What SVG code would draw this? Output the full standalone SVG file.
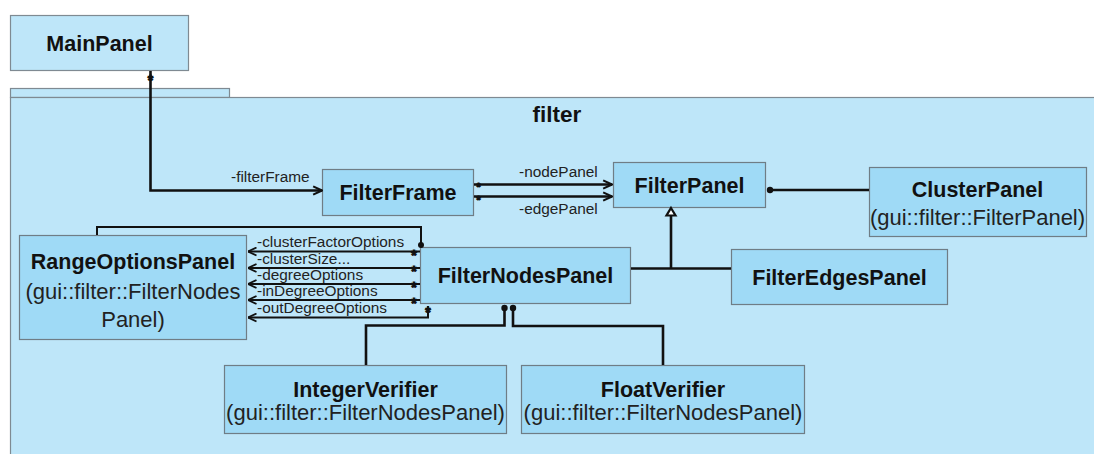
<svg xmlns="http://www.w3.org/2000/svg" width="1094" height="454" viewBox="0 0 1094 454">
  <style>
    .pkg { fill: #bee6f9; stroke: #7f8a92; stroke-width: 1.2; }
    .cls { fill: #9fdaf6; stroke: #6f7d86; stroke-width: 1.2; }
    .outer { fill: #bee6f9; stroke: #7f8a92; stroke-width: 1.2; }
    .name { font-family: "Liberation Sans", Arial, sans-serif; font-weight: bold; font-size: 21.5px; fill: #111; text-anchor: middle; }
    .sub { font-family: "Liberation Sans", Arial, sans-serif; font-size: 22px; fill: #222; text-anchor: middle; }
    .role { font-family: "Liberation Sans", Arial, sans-serif; font-size: 15.4px; fill: #222; }
    .mult { font-family: "Liberation Sans", Arial, sans-serif; font-weight: bold; font-size: 14px; fill: #111; stroke: #111; stroke-width: 1; text-anchor: middle; }
    .edge { fill: none; stroke: #111; stroke-width: 2.6; }
    .thin { fill: none; stroke: #111; stroke-width: 2; }
  </style>
  <defs>
    <marker id="open" viewBox="0 0 10 10" refX="9.5" refY="5" markerWidth="4" markerHeight="4" orient="auto" markerUnits="strokeWidth">
      <path d="M1,1 L9.5,5 L1,9" fill="none" stroke="#111" stroke-width="2"/>
    </marker>
    <marker id="openThin" viewBox="0 0 10 10" refX="9.5" refY="5" markerWidth="5" markerHeight="5" orient="auto" markerUnits="strokeWidth">
      <path d="M1,1 L9.5,5 L1,9" fill="none" stroke="#111" stroke-width="1.8"/>
    </marker>
  </defs>

  <rect width="1094" height="454" fill="#ffffff"/>

  <!-- filter package -->
  <g id="pkg-filter">
    <rect class="pkg" x="10.5" y="88.5" width="219" height="9"/>
    <rect class="pkg" x="10.5" y="97.5" width="1090" height="362"/>
    <text x="557" y="122" class="name" style="font-size:22.5px">filter</text>
  </g>

  <!-- classes -->
  <g id="node-mainpanel">
    <rect class="outer" x="10.5" y="15.5" width="178" height="55"/>
    <text x="99.5" y="50.5" class="name">MainPanel</text>
  </g>

  <g id="node-filterframe">
    <rect class="cls" x="322.5" y="169.5" width="151" height="46"/>
    <text x="398" y="200" class="name">FilterFrame</text>
  </g>

  <g id="node-filterpanel">
    <rect class="cls" x="613.5" y="162.5" width="152" height="45"/>
    <text x="689.5" y="192.5" class="name">FilterPanel</text>
  </g>

  <g id="node-clusterpanel">
    <rect class="cls" x="869.5" y="167.5" width="217" height="69"/>
    <text x="977.5" y="197" class="name">ClusterPanel</text>
    <text x="977.5" y="225" class="sub">(gui::filter::FilterPanel)</text>
  </g>

  <g id="node-rangeoptionspanel">
    <rect class="cls" x="19.5" y="235.5" width="227" height="104"/>
    <text x="133" y="268.5" class="name">RangeOptionsPanel</text>
    <text x="133" y="298.5" class="sub">(gui::filter::FilterNodes</text>
    <text x="133" y="326.5" class="sub">Panel)</text>
  </g>

  <g id="node-filternodespanel">
    <rect class="cls" x="420.5" y="247.5" width="210" height="56"/>
    <text x="525.5" y="283" class="name">FilterNodesPanel</text>
  </g>

  <g id="node-filteredgespanel">
    <rect class="cls" x="731.5" y="249.5" width="216" height="55"/>
    <text x="839.5" y="285" class="name">FilterEdgesPanel</text>
  </g>

  <g id="node-integerverifier">
    <rect class="cls" x="224.5" y="365.5" width="282" height="68"/>
    <text x="365.5" y="396.5" class="name">IntegerVerifier</text>
    <text x="365.5" y="419.5" class="sub">(gui::filter::FilterNodesPanel)</text>
  </g>

  <g id="node-floatverifier">
    <rect class="cls" x="521.5" y="365.5" width="283" height="68"/>
    <text x="663" y="396.5" class="name">FloatVerifier</text>
    <text x="663" y="419.5" class="sub">(gui::filter::FilterNodesPanel)</text>
  </g>

  <!-- connectors -->
  <g id="connectors">
    <!-- MainPanel -> FilterFrame -->
    <path class="edge" d="M150.5,71 V190.5 H322" marker-end="url(#open)"/>
    <text class="mult" x="150.5" y="85">*</text>
    <text class="role" x="231" y="182">-filterFrame</text>

    <!-- FilterFrame -> FilterPanel -->
    <path class="edge" d="M474,184.5 H612" marker-end="url(#open)"/>
    <path class="edge" d="M474,196.5 H612" marker-end="url(#open)"/>
    <text class="mult" x="478.5" y="191" style="font-size:10.5px">*</text>
    <text class="mult" x="478.5" y="203.5" style="font-size:10.5px">*</text>
    <text class="role" x="519" y="177">-nodePanel</text>
    <text class="role" x="519" y="214">-edgePanel</text>

    <!-- FilterPanel composed of ClusterPanel -->
    <path class="edge" d="M770,190 H869"/>
    <circle cx="770" cy="190" r="3.2" fill="#111"/>

    <!-- FilterNodesPanel / FilterEdgesPanel extend FilterPanel -->
    <path class="edge" d="M631,268.5 H731"/>
    <path class="edge" d="M671,268.5 V215"/>
    <path d="M671,208 L675.5,215.5 L666.5,215.5 Z" fill="#ffffff" stroke="#111" stroke-width="2.2" stroke-linejoin="miter"/>

    <!-- FilterNodesPanel composed of RangeOptionsPanel -->
    <path class="thin" d="M97,235 V227 H421 V245"/>
    <circle cx="421" cy="245" r="3" fill="#111"/>

    <!-- option fields typed RangeOptionsPanel -->
    <path class="thin" d="M420,251.5 H248" marker-end="url(#openThin)"/>
    <path class="thin" d="M420,268 H248" marker-end="url(#openThin)"/>
    <path class="thin" d="M420,284 H248" marker-end="url(#openThin)"/>
    <path class="thin" d="M420,300 H248" marker-end="url(#openThin)"/>
    <path class="thin" d="M428,306 V317.5 H248" marker-end="url(#openThin)"/>
    <text class="mult" x="414" y="259.5">*</text>
    <text class="mult" x="414" y="276">*</text>
    <text class="mult" x="414" y="292">*</text>
    <text class="mult" x="414" y="308">*</text>
    <text class="mult" x="428" y="316.5">*</text>
    <text class="role" x="257" y="246.5">-clusterFactorOptions</text>
    <text class="role" x="257" y="263.5">-clusterSize...</text>
    <text class="role" x="257" y="279.5">-degreeOptions</text>
    <text class="role" x="257" y="295.5">-inDegreeOptions</text>
    <text class="role" x="257" y="313">-outDegreeOptions</text>

    <!-- FilterNodesPanel composed of the verifiers -->
    <path class="edge" d="M504.5,308 V325.5 H366 V365"/>
    <circle cx="504.5" cy="308" r="3.2" fill="#111"/>
    <path class="edge" d="M513,308 V326 H663 V365"/>
    <circle cx="513" cy="308" r="3.2" fill="#111"/>
  </g>
</svg>
